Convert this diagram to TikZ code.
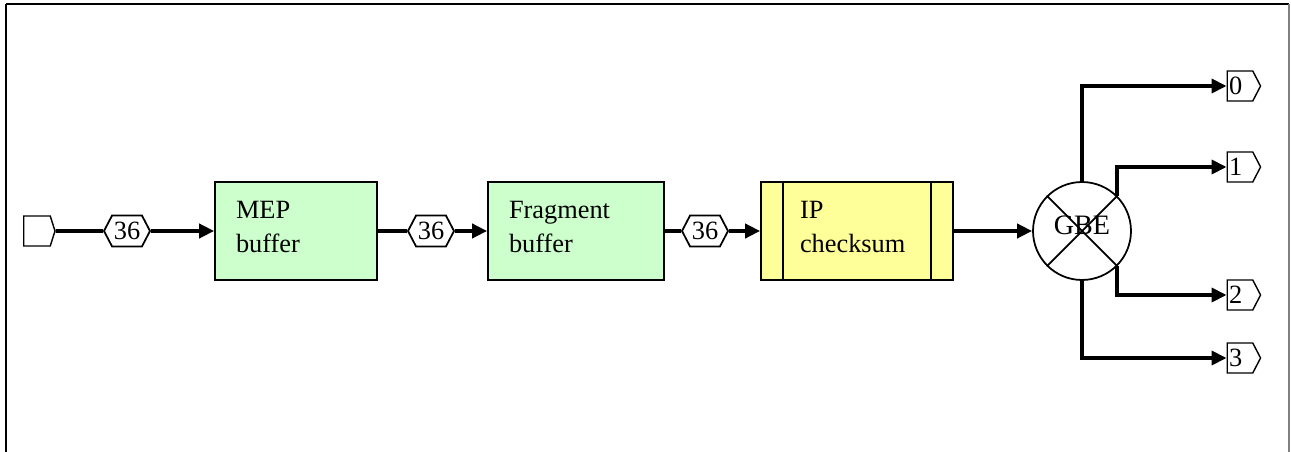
\documentclass[tikz,border=0pt]{standalone}
\usepackage{fontspec}
\setmainfont{Liberation Serif}
\usepackage{tikz}
\usetikzlibrary{arrows.meta,shapes.symbols,positioning}
\usepackage{xcolor}
\definecolor{bufgreen}{RGB}{204,255,204}
\definecolor{ipyellow}{RGB}{255,255,153}
\definecolor{framegray}{RGB}{128,128,128}
\tikzstyle{wire} = [line width=2.1pt]
\tikzstyle{arrow} = [wire,-{Triangle[length=0.3cm,width=0.28cm]}]
\tikzstyle{widthtag} = [signal, signal to=west and east, signal pointer angle=125, draw, line width=1pt, fill=white, minimum width=0.92cm, minimum height=0.62cm, inner sep=0pt, font=\fontsize{15}{15}\selectfont]
\tikzstyle{port} = [signal, signal to=east, signal pointer angle=125, draw, line width=0.8pt, fill=white, minimum height=0.6cm, text width=0.44cm, align=left, inner xsep=1pt, inner ysep=1pt, font=\fontsize{15}{15}\selectfont]
\tikzstyle{blockbox} = [rectangle, draw, line width=1pt, minimum height=1.96cm, align=left, inner xsep=0.42cm, text depth=0.84cm, font=\fontsize{15}{19}\selectfont]

\begin{document}
\begin{tikzpicture}[x=0.02cm,y=-0.02cm]
\useasboundingbox (0,0) rectangle (1291,452);
% Frame
\draw[line width=1.6pt] (6,452) -- (6,4);
\draw[line width=1pt] (6,4) -- (1289,4);
\draw[framegray, line width=1pt] (1289,4) -- (1289,452);

% Input port
\node[port, signal pointer angle=145, text width=0.46cm] (pin) at (37,231) {};

% Buffers
\node[blockbox, fill=bufgreen, minimum width=3.24cm, text width=2.4cm] (mep) at (296,231) {MEP\\buffer};
\node[blockbox, fill=bufgreen, minimum width=3.52cm, text width=2.68cm] (frag) at (576,231) {Fragment\\buffer};

% Checksum block
\node[blockbox, fill=ipyellow, minimum width=3.84cm, text width=2.28cm, inner xsep=0.78cm] (ipc) at (857,231) {IP\\checksum};
\draw[line width=1pt] ([xshift=0.46cm]ipc.north west) -- ([xshift=0.46cm]ipc.south west);
\draw[line width=1pt] ([xshift=-0.46cm]ipc.north east) -- ([xshift=-0.46cm]ipc.south east);

% Bus widths
\node[widthtag] (w1) at (127,231) {36};
\node[widthtag] (w2) at (431,231) {36};
\node[widthtag] (w3) at (705,231) {36};

% GBE switch
\node[circle, draw, line width=1pt, fill=white, minimum size=1.96cm, inner sep=0pt, font=\fontsize{16}{16}\selectfont] (gbe) at (1082,231) {\raisebox{0.24cm}{GBE}};
\draw[line width=1pt] (gbe.45) -- (gbe.225);
\draw[line width=1pt] (gbe.135) -- (gbe.315);

% Output ports
\node[port] (p0) at (1240,86) {0};
\node[port] (p1) at (1240,167) {1};
\node[port] (p2) at (1240,295) {2};
\node[port] (p3) at (1240,358) {3};

% Arrows
\draw[wire] (pin) -- (w1);
\draw[arrow] (w1) -- (mep);
\draw[wire] (mep) -- (w2);
\draw[arrow] (w2) -- (frag);
\draw[wire] (frag) -- (w3);
\draw[arrow] (w3) -- (ipc);
\draw[arrow] (ipc) -- (gbe);
\draw[arrow] (gbe.north) |- (p0.west);
\draw[arrow] (gbe.45) |- (p1.west);
\draw[arrow] (gbe.-45) |- (p2.west);
\draw[arrow] (gbe.south) |- (p3.west);
\end{tikzpicture}
\end{document}
